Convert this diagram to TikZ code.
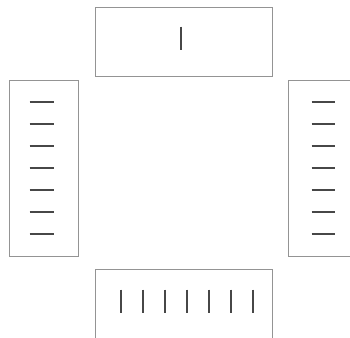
\documentclass[tikz,border=0pt]{standalone}
\usepackage{tikz}
\usetikzlibrary{positioning}

\begin{document}
\begin{tikzpicture}[
    x=1pt, y=1pt,
    wide/.style={draw=black!42, line width=0.9pt, rectangle,
                minimum width=177pt, minimum height=69pt, inner sep=0pt},
    tall/.style={draw=black!42, line width=0.9pt, rectangle,
                minimum width=69pt, minimum height=176pt, inner sep=0pt},
    tick/.style={draw=black!72, line width=2.2pt}
]
\useasboundingbox (0,0) rectangle (350,337);
\clip (0,0) rectangle (350,337);

\node[wide] (north) at (183.5,295.5) {};
\node[tall] (west) at (43.5,169) {};
\node[tall] (east) at (322.5,169) {};
\node[wide] (south) at (183.5,33.5) {};

% one tick on top, seven on the others
\draw[tick] ([xshift=-2.5pt,yshift=-20pt]north.north) -- ++(0,-23);
\foreach \i in {0,...,6} {
  \draw[tick] ([xshift=21pt,yshift={-22.5pt-22*\i pt}]west.north west) -- ++(24,0);
  \draw[tick] ([xshift=24pt,yshift={-22.5pt-22*\i pt}]east.north west) -- ++(23,0);
  \draw[tick] ([xshift={26.5pt+22*\i pt},yshift=-21pt]south.north west) -- ++(0,-23);
}
\end{tikzpicture}
\end{document}
